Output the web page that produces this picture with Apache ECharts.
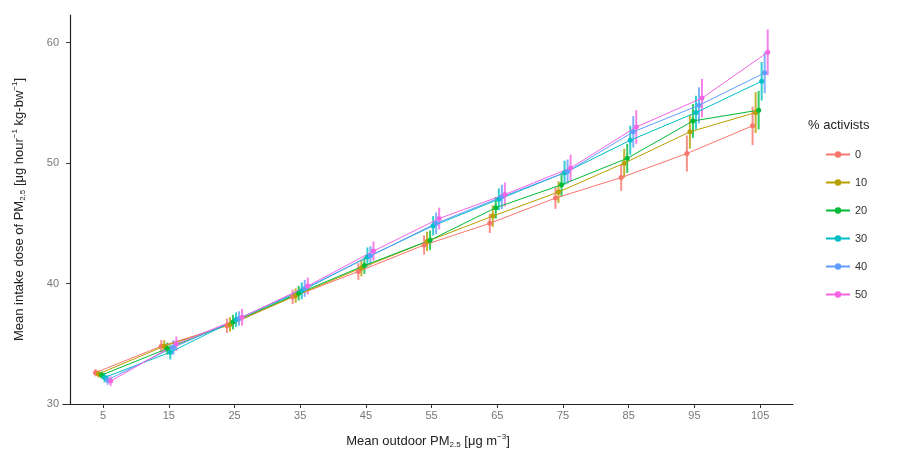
<!DOCTYPE html>
<html><head><meta charset="utf-8">
<script src="https://cdn.jsdelivr.net/npm/echarts@6/dist/echarts.min.js"></script>
<style>html,body{margin:0;padding:0;background:#fff}#c{width:903px;height:452px}</style>
</head><body><div id="c"></div>
<script>
// ---- data ----
const xValues = [5, 15, 25, 35, 45, 55, 65, 75, 85, 95, 105];
const seriesNames = ['0', '10', '20', '30', '40', '50'];
const dose0  = [32.6, 34.8, 36.5, 38.9, 41.0, 43.2, 45.0, 47.1, 48.8, 50.8, 53.1];
const dose10 = [32.5, 34.8, 36.6, 39.0, 41.3, 43.5, 45.6, 47.6, 50.0, 52.6, 54.2];
const dose20 = [32.4, 34.6, 36.8, 39.2, 41.5, 43.6, 46.3, 48.2, 50.4, 53.5, 54.4];
const dose30 = [32.2, 34.3, 37.0, 39.4, 42.2, 44.8, 47.0, 49.2, 51.9, 54.2, 56.8];
const dose40 = [32.0, 34.7, 37.1, 39.6, 42.3, 45.0, 47.2, 49.3, 52.6, 54.8, 57.5];
const dose50 = [31.9, 35.0, 37.2, 39.8, 42.7, 45.4, 47.4, 49.6, 53.0, 55.4, 59.2];
const err0  = [0.3, 0.5, 0.6, 0.6, 0.7, 0.8, 0.8, 0.9, 1.1, 1.5, 1.6];
const err10 = [0.3, 0.5, 0.6, 0.6, 0.7, 0.8, 0.9, 0.9, 1.2, 1.4, 1.7];
const err20 = [0.3, 0.5, 0.6, 0.6, 0.7, 0.8, 0.9, 1.0, 1.2, 1.4, 1.6];
const err30 = [0.4, 0.6, 0.6, 0.7, 0.8, 0.8, 0.9, 1.0, 1.2, 1.4, 1.6];
const err40 = [0.4, 0.6, 0.6, 0.7, 0.8, 0.9, 1.0, 1.0, 1.3, 1.5, 1.7];
const err50 = [0.4, 0.6, 0.7, 0.7, 0.8, 0.9, 1.0, 1.1, 1.4, 1.6, 1.9];
const yTicks = [30, 40, 50, 60];

// ---- build ----
const doses = [dose0, dose10, dose20, dose30, dose40, dose50];
const errs = [err0, err10, err20, err30, err40, err50];
const colors = ['#F8766D', '#B79F00', '#00BA38', '#00BFC4', '#619CFF', '#F564E3'];
const dodgeStep = 0.46;

const series = [];
doses.forEach((d, i) => {
  const off = (i - 2.5) * dodgeStep;
  series.push({
    name: seriesNames[i], type: 'line', z: 3,
    data: xValues.map((x, k) => [x + off, d[k]]),
    symbol: 'circle', symbolSize: 5,
    itemStyle: { color: colors[i] },
    lineStyle: { width: 1, color: colors[i] },
    emphasis: { disabled: true }, animation: false
  });
  series.push({
    name: seriesNames[i], type: 'custom', z: 2,
    data: xValues.map((x, k) => [x + off, d[k] - errs[i][k], d[k] + errs[i][k]]),
    renderItem: (params, api) => {
      const p1 = api.coord([api.value(0), api.value(1)]);
      const p2 = api.coord([api.value(0), api.value(2)]);
      return { type: 'line', shape: { x1: p1[0], y1: p1[1], x2: p2[0], y2: p2[1] },
               style: { stroke: colors[i], lineWidth: 2, opacity: 0.8 } };
    },
    animation: false
  });
});

const richName = {
  a: { fontSize: 13, color: '#222', fontFamily: 'Liberation Sans, Arial', lineHeight: 16, verticalAlign: 'middle' },
  s: { fontSize: 8, color: '#222', fontFamily: 'Liberation Sans, Arial', lineHeight: 16, verticalAlign: 'bottom', padding: [6, 0, 0, 0] },
  p: { fontSize: 8, color: '#222', fontFamily: 'Liberation Sans, Arial', lineHeight: 16, verticalAlign: 'top', padding: [0, 0, 6, 0] }
};

const chart = echarts.init(document.getElementById('c'));
chart.setOption({
  backgroundColor: '#fff',
  animation: false,
  grid: { left: 63, right: 110, top: 15, bottom: 48, outerBoundsMode: 'none', containLabel: false },
  xAxis: {
    type: 'value', min: -1.1, max: 110,
    splitLine: { show: false },
    axisLine: { lineStyle: { color: '#222', width: 1.2 } },
    axisTick: { show: true, length: 4, lineStyle: { color: '#333' }, customValues: xValues },
    axisLabel: { color: '#777', fontSize: 11, margin: 6, fontFamily: 'Liberation Sans, Arial', customValues: xValues },
    name: '{a|Mean outdoor PM}{s|2.5}{a| [μg m}{p|−3}{a|]}',
    nameLocation: 'middle', nameGap: 29,
    nameTextStyle: { rich: richName }
  },
  yAxis: {
    type: 'value', min: 30, max: 62.3,
    splitLine: { show: false },
    axisLine: { show: true, lineStyle: { color: '#222', width: 1.2 } },
    axisTick: { show: true, length: 4, lineStyle: { color: '#333' }, customValues: yTicks },
    axisLabel: { color: '#777', fontSize: 11, margin: 4, fontFamily: 'Liberation Sans, Arial', customValues: yTicks },
    name: '{a|Mean intake dose of PM}{s|2.5}{a| [μg hour}{p|−1}{a| kg-bw}{p|−1}{a|]}',
    nameLocation: 'middle', nameGap: 36,
    nameTextStyle: { rich: richName }
  },
  legend: {
    data: seriesNames,
    orient: 'vertical', left: 820, top: 144,
    itemWidth: 24, itemHeight: 8, itemGap: 17,
    textStyle: { color: '#333', fontSize: 11, fontFamily: 'Liberation Sans, Arial' },
    selectedMode: false
  },
  graphic: [{
    type: 'text', left: 808, top: 119,
    style: { text: '% activists', fontSize: 13, fill: '#222', fontFamily: 'Liberation Sans, Arial' }
  }],
  series: series
});
</script></body></html>
